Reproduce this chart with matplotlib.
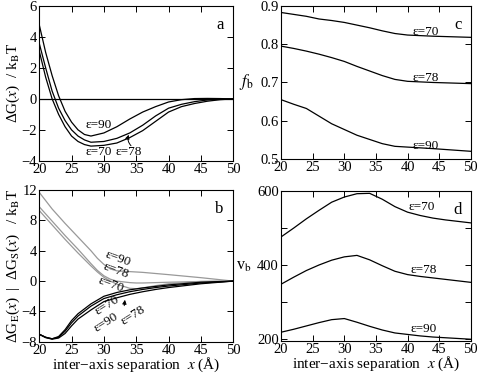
import matplotlib
matplotlib.use('Agg')
import matplotlib.pyplot as plt
import numpy as np

plt.rcParams['font.family'] = ['Liberation Serif', 'DejaVu Serif']
plt.rcParams['mathtext.fontset'] = 'stix'
plt.rcParams['font.size'] = 10.5

# panel a : dG(x)/kT
xa = [20, 21, 22, 23, 24, 25, 26, 27, 28, 30, 32, 34, 36, 38, 40, 42, 44, 46, 48, 50]
ga_90 = [4.8, 3.0, 1.5, 0.2, -0.8, -1.5, -2.0, -2.3, -2.4, -2.2, -1.8, -1.3, -0.85, -0.5, -0.2, -0.05, 0.02, 0.03, 0.02, 0.0]
ga_78 = [3.6, 2.0, 0.5, -0.6, -1.4, -2.0, -2.4, -2.65, -2.8, -2.75, -2.55, -2.2, -1.7, -1.1, -0.6, -0.35, -0.18, -0.07, -0.02, 0.0]
ga_70 = [3.1, 1.4, 0.0, -1.0, -1.8, -2.4, -2.75, -2.95, -3.05, -3.0, -2.85, -2.5, -2.05, -1.45, -0.85, -0.5, -0.3, -0.15, -0.05, 0.0]

# panel b : solvation (gray) and electrostatic (black) parts
xs = [20, 22, 24, 26, 28, 29, 30, 31, 32, 34, 35, 36, 38, 40, 45, 50]
gs_90 = [11.7, 9.5, 7.6, 5.8, 4.0, 3.0, 2.2, 1.6, 1.35, 1.25, 1.2, 1.15, 1.0, 0.85, 0.45, 0.0]
gs_78 = [9.8, 7.9, 6.0, 4.2, 2.3, 1.4, 0.7, 0.25, 0.0, -0.2, -0.25, -0.25, -0.2, -0.15, -0.05, 0.0]
gs_70 = [9.3, 7.4, 5.5, 3.7, 2.0, 1.2, 0.5, 0.0, -0.4, -0.95, -1.0, -0.9, -0.6, -0.35, -0.05, 0.0]
xe = [20, 21, 22, 23, 24, 25, 26, 28, 30, 32, 34, 36, 38, 40, 45, 50]
ge_70 = [-7.0, -7.4, -7.6, -7.3, -6.4, -5.2, -4.3, -3.0, -2.0, -1.5, -1.15, -0.9, -0.7, -0.5, -0.15, 0.0]
ge_78 = [-7.0, -7.4, -7.6, -7.4, -6.6, -5.5, -4.6, -3.3, -2.3, -1.8, -1.4, -1.1, -0.85, -0.65, -0.25, 0.0]
ge_90 = [-7.0, -7.45, -7.65, -7.5, -6.9, -5.9, -5.0, -3.8, -2.7, -2.2, -1.75, -1.4, -1.1, -0.85, -0.35, 0.0]

# panel c : f_b
xc = [20, 22, 24, 26, 28, 30, 32, 34, 36, 38, 40, 44, 50]
fb_70 = [0.883, 0.878, 0.873, 0.866, 0.862, 0.857, 0.850, 0.843, 0.835, 0.828, 0.824, 0.821, 0.818]
fb_78 = [0.795, 0.789, 0.782, 0.774, 0.765, 0.755, 0.742, 0.730, 0.718, 0.708, 0.703, 0.700, 0.697]
fb_90 = [0.655, 0.643, 0.632, 0.612, 0.592, 0.577, 0.562, 0.551, 0.540, 0.533, 0.531, 0.527, 0.520]

# panel d : v_b
xd = [20, 22, 24, 26, 28, 30, 32, 34, 36, 38, 40, 42, 44, 46, 48, 50]
vb_70 = [476, 500, 525, 548, 570, 584, 593, 594, 578, 558, 543, 534, 527, 522, 518, 514]
vb_78 = [348, 367, 385, 400, 413, 422, 426, 414, 398, 383, 374, 369, 365, 361, 357, 353]
vb_90 = [218, 226, 235, 244, 252, 255, 245, 234, 224, 216, 212, 208, 205, 203, 201, 199]

xlabel = 'inter\u2212axis separation  $x$ (Å)'
lab_fs = 9.5

fig = plt.figure(figsize=(4.78, 3.74), dpi=100)
ax_a = fig.add_axes([0.082, 0.570, 0.406, 0.414])
ax_b = fig.add_axes([0.082, 0.086, 0.406, 0.406])
ax_c = fig.add_axes([0.588, 0.575, 0.397, 0.409])
ax_d = fig.add_axes([0.588, 0.089, 0.397, 0.400])

for ax in [ax_a, ax_b, ax_c, ax_d]:
    ax.tick_params(direction='in', top=True, right=True, labelsize=10.5, length=4, width=0.7, pad=1.5)
    ax.set_xlim(20, 50)
    ax.set_xticks(np.arange(20, 51, 5))
    for s in ax.spines.values():
        s.set_linewidth(0.8)

lw = 0.9
# a
ax_a.axhline(0, color='k', lw=lw)
ax_a.plot(xa, ga_90, 'k', lw=lw)
ax_a.plot(xa, ga_78, 'k', lw=lw)
ax_a.plot(xa, ga_70, 'k', lw=lw)
ax_a.set_ylim(-4, 6)
ax_a.set_yticks([-4, -2, 0, 2, 4, 6])
ax_a.set_ylabel('ΔG($x$)  / k$_\\mathrm{B}$T', labelpad=0, fontsize=11)
ax_a.text(27.2, -1.7, 'ε=90', fontsize=lab_fs, va='center')
ax_a.text(27.2, -3.4, 'ε=70', fontsize=lab_fs, va='center')
ax_a.text(31.8, -3.4, 'ε=78', fontsize=lab_fs, va='center')
ax_a.annotate('', xy=(34.0, -2.15), xytext=(34.5, -3.15),
              arrowprops=dict(arrowstyle='-|>', color='k', lw=0.7, mutation_scale=6,
                              connectionstyle='arc3,rad=-0.4'))
ax_a.text(0.95, 0.93, 'a', transform=ax_a.transAxes, ha='right', va='top', fontsize=12)

# b
gray = '#999999'
ax_b.plot(xs, gs_90, color=gray, lw=lw)
ax_b.plot(xs, gs_78, color=gray, lw=lw)
ax_b.plot(xs, gs_70, color=gray, lw=lw)
ax_b.plot(xe, ge_70, 'k', lw=lw)
ax_b.plot(xe, ge_78, 'k', lw=lw)
ax_b.plot(xe, ge_90, 'k', lw=lw)
ax_b.set_ylim(-8, 12)
ax_b.set_yticks([-8, -4, 0, 4, 8, 12])
ax_b.set_xlabel(xlabel, labelpad=-1, fontsize=11)
ax_b.set_ylabel('ΔG$_\\mathrm{E}$($x$)  |  ΔG$_\\mathrm{S}$($x$)   / k$_\\mathrm{B}$T', labelpad=0, fontsize=11)
ax_b.text(29.9, 2.9, 'ε=90', fontsize=lab_fs, rotation=-20, va='center')
ax_b.text(29.6, 1.4, 'ε=78', fontsize=lab_fs, rotation=-20, va='center')
ax_b.text(28.8, -0.5, 'ε=70', fontsize=lab_fs, rotation=-20, va='center')
ax_b.text(28.3, -3.2, 'ε=70', fontsize=lab_fs, rotation=32, va='center')
ax_b.text(28.1, -5.4, 'ε=90', fontsize=lab_fs, rotation=32, va='center')
ax_b.text(32.3, -4.5, 'ε=78', fontsize=lab_fs, rotation=32, va='center')
ax_b.annotate('', xy=(33.3, -2.1), xytext=(33.1, -3.6),
              arrowprops=dict(arrowstyle='-|>', color='k', lw=0.7, mutation_scale=6))
ax_b.text(0.95, 0.93, 'b', transform=ax_b.transAxes, ha='right', va='top', fontsize=12)

# c
ax_c.plot(xc, fb_70, 'k', lw=lw)
ax_c.plot(xc, fb_78, 'k', lw=lw)
ax_c.plot(xc, fb_90, 'k', lw=lw)
ax_c.set_ylim(0.5, 0.9)
ax_c.set_yticks([0.5, 0.6, 0.7, 0.8, 0.9])
ax_c.set_ylabel('$f_\\mathrm{b}$', rotation=0, labelpad=10, va='center', fontsize=12)
ax_c.text(40.8, 0.833, 'ε=70', fontsize=lab_fs, va='center')
ax_c.text(40.8, 0.711, 'ε=78', fontsize=lab_fs, va='center')
ax_c.text(40.8, 0.533, 'ε=90', fontsize=lab_fs, va='center')
ax_c.text(0.95, 0.93, 'c', transform=ax_c.transAxes, ha='right', va='top', fontsize=12)

# d
ax_d.plot(xd, vb_70, 'k', lw=lw)
ax_d.plot(xd, vb_78, 'k', lw=lw)
ax_d.plot(xd, vb_90, 'k', lw=lw)
ax_d.set_ylim(195, 600)
ax_d.set_yticks([200, 400, 600])
ax_d.set_yticks([300, 500], minor=True)
ax_d.tick_params(which='minor', direction='in', right=True, length=4, width=0.7)
ax_d.set_xlabel(xlabel, labelpad=-1, fontsize=11)
ax_d.set_ylabel('v$_\\mathrm{b}$', rotation=0, labelpad=10, va='center', fontsize=11.5)
ax_d.text(40.2, 558, 'ε=70', fontsize=lab_fs, va='center')
ax_d.text(40.4, 386, 'ε=78', fontsize=lab_fs, va='center')
ax_d.text(40.4, 227, 'ε=90', fontsize=lab_fs, va='center')
ax_d.text(0.95, 0.93, 'd', transform=ax_d.transAxes, ha='right', va='top', fontsize=12)

fig.savefig('out.png', dpi=100)
